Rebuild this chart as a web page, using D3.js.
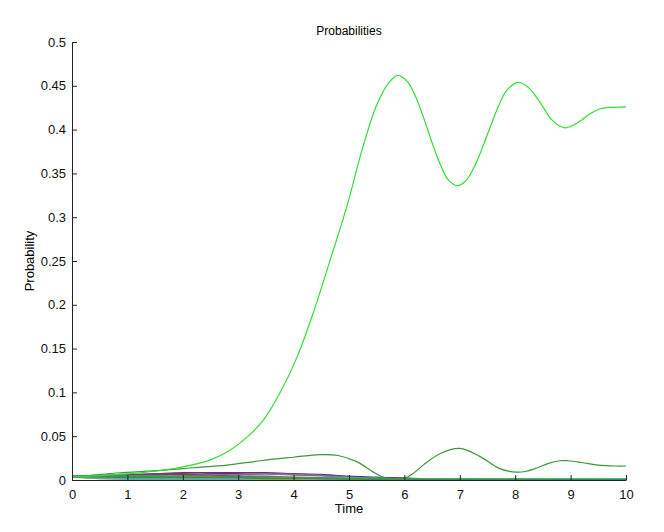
<!DOCTYPE html>
<html>
<head>
<meta charset="utf-8">
<script src="https://cdn.jsdelivr.net/npm/d3@7"></script>
<style>
  body { margin: 0; background: #fff; }
  text { font-family: "Liberation Sans", Arial, sans-serif; }
</style>
</head>
<body>
<div id="chart"></div>
<script>
// times and values
const mainTimes = [0, 0.5, 1, 1.5, 2, 2.5, 2.85, 3.16, 3.45, 3.75, 4.06, 4.35, 4.66, 4.96, 5.25, 5.5, 5.7, 5.88, 6.05, 6.2, 6.35, 6.5, 6.65, 6.8, 6.95, 7.1, 7.25, 7.4, 7.55, 7.7, 7.85, 8.05, 8.2, 8.35, 8.5, 8.65, 8.8, 8.9, 9.05, 9.2, 9.35, 9.5, 9.65, 10];
const mainValues = [0.004, 0.005, 0.007, 0.010, 0.015, 0.023, 0.034, 0.049, 0.068, 0.099, 0.140, 0.190, 0.251, 0.312, 0.380, 0.428, 0.452, 0.462, 0.455, 0.438, 0.413, 0.385, 0.360, 0.342, 0.336, 0.341, 0.356, 0.378, 0.403, 0.427, 0.445, 0.454, 0.450, 0.440, 0.426, 0.412, 0.404, 0.402, 0.405, 0.411, 0.418, 0.423, 0.425, 0.426];

const secondTimes = [0, 0.3, 0.8, 1.6, 2.2, 2.8, 3.4, 4.0, 4.48, 4.8, 5.14, 5.44, 5.62, 5.8, 5.98, 6.15, 6.34, 6.64, 7.0, 7.36, 7.72, 8.03, 8.2, 8.4, 8.6, 8.8, 8.95, 9.2, 9.5, 9.8, 10];
const secondValues = [0.004, 0.005, 0.008, 0.011, 0.014, 0.017, 0.022, 0.026, 0.029, 0.028, 0.021, 0.009, 0.003, 0.0005, 0.001, 0.007, 0.017, 0.030, 0.036, 0.027, 0.013, 0.009, 0.010, 0.014, 0.019, 0.022, 0.022, 0.020, 0.017, 0.016, 0.016];

// small crowded series near zero
const smallTimes = [0, 0.5, 1, 1.5, 2, 2.5, 3, 3.5, 4, 4.5, 5, 5.5, 6, 6.5, 7, 7.5, 8, 9, 10];
const smallSeries = [
  { color: "#6a2f74", values: [0.004, 0.005, 0.006, 0.007, 0.008, 0.008, 0.008, 0.008, 0.007, 0.006, 0.004, 0.003, 0.002, 0.001, 0.001, 0.0005, 0.0003, 0.0002, 0.0001] },
  { color: "#8a6c9a", values: [0.004, 0.004, 0.005, 0.006, 0.006, 0.006, 0.006, 0.007, 0.006, 0.005, 0.003, 0.002, 0.001, 0.001, 0.0005, 0.0003, 0.0002, 0.0001, 0.0001] },
  { color: "#555555", values: [0.004, 0.004, 0.005, 0.006, 0.006, 0.005, 0.004, 0.004, 0.003, 0.002, 0.002, 0.001, 0.001, 0.0005, 0.0003, 0.0002, 0.0001, 0, 0] },
  { color: "#c87a6a", values: [0.004, 0.003, 0.004, 0.004, 0.004, 0.004, 0.003, 0.003, 0.003, 0.002, 0.001, 0.001, 0.0005, 0.0003, 0.0002, 0.0001, 0, 0, 0] },
  { color: "#2f9e8f", values: [0.004, 0.004, 0.004, 0.004, 0.003, 0.003, 0.003, 0.003, 0.002, 0.002, 0.002, 0.002, 0.001, 0.001, 0.001, 0.001, 0.001, 0.001, 0.001] },
  { color: "#b9a43a", values: [0.004, 0.002, 0.002, 0.002, 0.002, 0.002, 0.001, 0.001, 0.001, 0.0005, 0.0003, 0.0002, 0.0001, 0, 0, 0, 0, 0, 0] },
  { color: "#8a8ab8", values: [0.004, 0.002, 0.001, 0.001, 0.001, 0.001, 0.001, 0.002, 0.002, 0.001, 0.001, 0.001, 0.0005, 0.0003, 0.0002, 0.0001, 0, 0, 0] },
  { color: "#44c29a", values: [0.004, 0.003, 0.002, 0.002, 0.002, 0.002, 0.002, 0.002, 0.002, 0.002, 0.002, 0.001, 0.001, 0.001, 0.001, 0.001, 0.001, 0.001, 0.001] },
  { color: "#3d8f3d", values: [0.004, 0.004, 0.003, 0.003, 0.003, 0.003, 0.003, 0.002, 0.002, 0.002, 0.001, 0.001, 0.001, 0.0005, 0.0005, 0.0003, 0.0003, 0.0002, 0.0002] }
];

const xTicks = [0, 1, 2, 3, 4, 5, 6, 7, 8, 9, 10];
const yTicks = [0, 0.05, 0.1, 0.15, 0.2, 0.25, 0.3, 0.35, 0.4, 0.45, 0.5];

const margin = { top: 42, right: 38, bottom: 52, left: 72 };
const width = 664 - margin.left - margin.right;
const height = 532 - margin.top - margin.bottom;

const svg = d3.select("#chart")
  .append("svg")
  .attr("width", 664)
  .attr("height", 532);

const g = svg.append("g")
  .attr("transform", `translate(${margin.left},${margin.top})`);

const x = d3.scaleLinear().domain([0, 10]).range([0, width]);
const y = d3.scaleLinear().domain([0, 0.5]).range([height, 0]);

const line = d3.line()
  .x(d => x(d[0]))
  .y(d => y(Math.max(0, d[1])))
  .curve(d3.curveCatmullRom.alpha(0.5));

// small series first so the bigger ones sit on top
smallSeries.forEach(s => {
  g.append("path")
    .datum(smallTimes.map((t, i) => [t, s.values[i]]))
    .attr("fill", "none")
    .attr("stroke", s.color)
    .attr("stroke-width", 1.8)
    .attr("d", line);
});

g.append("path")
  .datum(secondTimes.map((t, i) => [t, secondValues[i]]))
  .attr("fill", "none")
  .attr("stroke", "#3a9a3a")
  .attr("stroke-width", 1.2)
  .attr("d", line);

g.append("path")
  .datum(mainTimes.map((t, i) => [t, mainValues[i]]))
  .attr("fill", "none")
  .attr("stroke", "#30e030")
  .attr("stroke-width", 1.2)
  .attr("d", line);

// axes, ticks pointing inward
const xAxis = g.append("g")
  .attr("transform", `translate(0,${height})`)
  .call(d3.axisBottom(x).tickValues(xTicks).tickFormat(d3.format("d")).tickSizeInner(-5).tickSizeOuter(0).tickPadding(10));

const yAxis = g.append("g")
  .call(d3.axisLeft(y).tickValues(yTicks).tickFormat(d => d === 0 ? "0" : String(+d.toFixed(2))).tickSizeInner(-5).tickSizeOuter(0).tickPadding(6));

[xAxis, yAxis].forEach(a => {
  a.selectAll("path, line").attr("stroke", "#222");
  a.selectAll("text").attr("font-size", 13).attr("fill", "#111");
});

svg.append("text")
  .attr("x", margin.left + width / 2)
  .attr("y", 35)
  .attr("text-anchor", "middle")
  .attr("font-size", 12)
  .text("Probabilities");

svg.append("text")
  .attr("x", margin.left + width / 2)
  .attr("y", 513)
  .attr("text-anchor", "middle")
  .attr("font-size", 13)
  .text("Time");

svg.append("text")
  .attr("transform", `translate(34,${margin.top + height / 2}) rotate(-90)`)
  .attr("text-anchor", "middle")
  .attr("font-size", 13)
  .text("Probability");
</script>
</body>
</html>
